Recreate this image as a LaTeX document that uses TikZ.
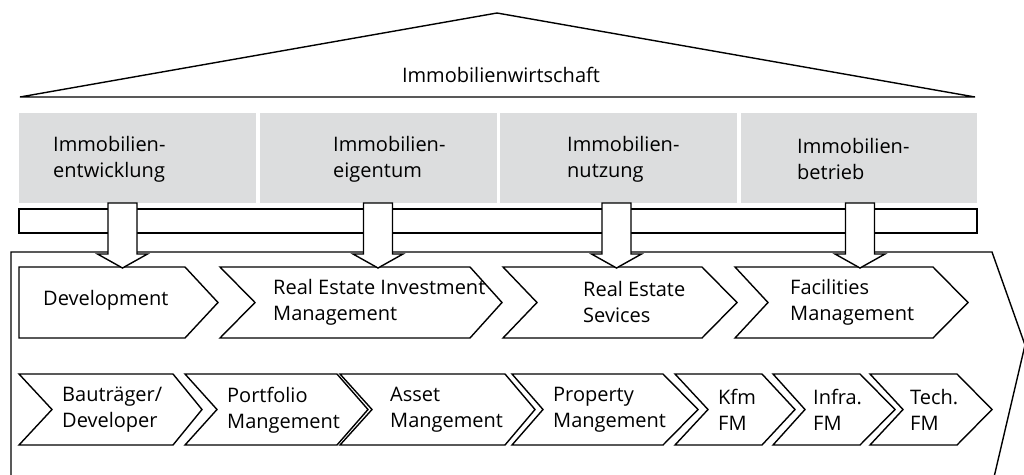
\documentclass[tikz,border=0pt]{standalone}
\usepackage{fontspec}
\setmainfont{Open Sans}
\definecolor{boxgray}{HTML}{DCDDDE}
\begin{document}
\begin{tikzpicture}[x=1pt,y=-1pt,
  outline/.style={draw=black, line width=1.4pt, line join=miter},
  chev/.style={outline, fill=white},
  graybox/.style={fill=boxgray, draw=none},
  blockarrow/.style={outline, fill=white},
  lbl/.style={font=\fontsize{20}{26}\selectfont, align=left, inner sep=0pt, anchor=west}
]
\useasboundingbox (0,0) rectangle (1024,474);
\begin{scope}
\clip (0,0) rectangle (1024,474);
% roof
\draw[outline] (20,97) -- (497,13) -- (975,97) -- cycle;
\node[lbl, anchor=base] (roof) at (501,82) {Immobilienwirtschaft};
% gray boxes
\fill[graybox] (19,113) rectangle (256,203);
\fill[graybox] (260,113) rectangle (497,203);
\fill[graybox] (500,113) rectangle (737,203);
\fill[graybox] (741,113) rectangle (977,203);
\node[lbl] (g1) at (53,159) {Immobilien-\\entwicklung};
\node[lbl] (g2) at (333,159) {Immobilien-\\eigentum};
\node[lbl] (g3) at (567,159) {Immobilien-\\nutzung};
\node[lbl] (g4) at (797,159) {Immobilien-\\betrieb};
% bar
\draw[outline] (19,209) rectangle (977,233);
% outer pentagon
\draw[outline] (11,490) -- (11,252) -- (992,252) -- (1025,345) -- (991,490);
% row 1 chevrons
\draw[chev] (19,267) -- (185,267) -- (218,302.5) -- (185,338) -- (19,338) -- cycle;
\draw[chev] (220,267) -- (470,267) -- (502,302.5) -- (470,338) -- (220,338) -- (255,302.5) -- cycle;
\draw[chev] (503,267) -- (702,267) -- (737,302.5) -- (702,338) -- (503,338) -- (537,302.5) -- cycle;
\draw[chev] (735,267) -- (933,267) -- (968,302.5) -- (933,338) -- (735,338) -- (768,302.5) -- cycle;
\node[lbl] (r1) at (43,300) {Development};
\node[lbl] (r2) at (273,302) {Real Estate Investment\\Management};
\node[lbl] (r3) at (583,302) {Real Estate\\Sevices};
\node[lbl] (r4) at (790,302) {Facilities\\Management};
% row 2 chevrons
\draw[chev] (19,374) -- (173,374) -- (202,409.5) -- (173,445) -- (19,445) -- (52,409.5) -- cycle;
\draw[chev] (185,374) -- (337,374) -- (368,409.5) -- (337,445) -- (185,445) -- (217,409.5) -- cycle;
\draw[chev] (340,374) -- (505,374) -- (535,409.5) -- (505,445) -- (340,445) -- (372,409.5) -- cycle;
\draw[chev] (512,374) -- (663,374) -- (698,409.5) -- (663,445) -- (512,445) -- (543,409.5) -- cycle;
\draw[chev] (675,374) -- (762,374) -- (795,409.5) -- (762,445) -- (675,445) -- (708,409.5) -- cycle;
\draw[chev] (773,374) -- (860,374) -- (895,409.5) -- (860,445) -- (773,445) -- (805,409.5) -- cycle;
\draw[chev] (870,374) -- (957,374) -- (992,409.5) -- (957,445) -- (870,445) -- (903,409.5) -- cycle;
\node[lbl] (s1) at (62,410) {Bauträger/\\Developer};
\node[lbl] (s2) at (227,410) {Portfolio\\Mangement};
\node[lbl] (s3) at (390,410) {Asset\\Mangement};
\node[lbl] (s4) at (553,410) {Property\\Mangement};
\node[lbl] (s5) at (718,410) {Kfm\\FM};
\node[lbl] (s6) at (813,410) {Infra.\\FM};
\node[lbl] (s7) at (910,410) {Tech.\\FM};
% block arrows
\foreach \cx in {122.5,378,616.5,860}{
  \draw[blockarrow] (\cx-14.5,203) -- (\cx+14.5,203) -- (\cx+14.5,254) -- (\cx+25,254)
    -- (\cx,268) -- (\cx-25,254) -- (\cx-14.5,254) -- cycle;
}
\end{scope}
\end{tikzpicture}
\end{document}
